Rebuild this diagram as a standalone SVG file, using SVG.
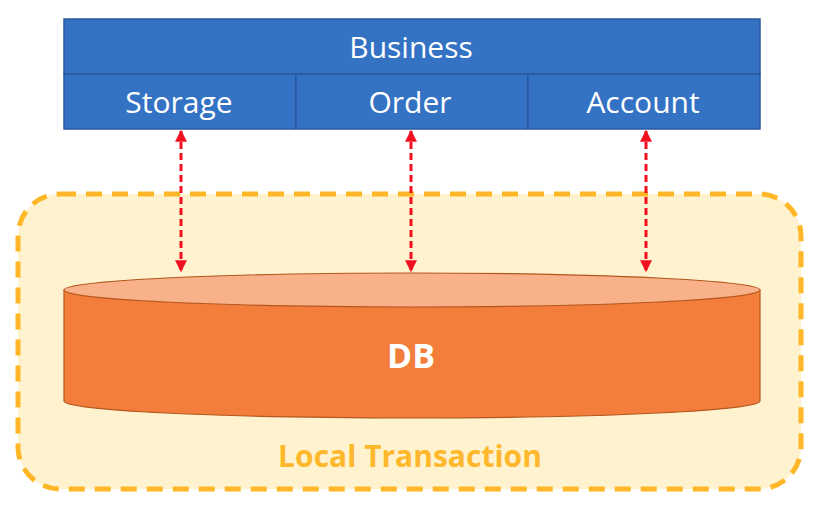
<svg xmlns="http://www.w3.org/2000/svg" width="817" height="505" viewBox="0 0 817 505">
<defs>
<style>
.cell{fill:#3472C4;stroke:#2A5A9E;stroke-width:1.5}
.lbl{font-family:"Open Sans","Liberation Sans",sans-serif;font-size:30px;fill:#fff;text-anchor:middle}
.conn{stroke:#F0101E;stroke-width:3;stroke-dasharray:7 4;fill:none}
</style>
<marker id="ah" viewBox="0 0 10 10" refX="9" refY="5" markerWidth="4" markerHeight="4" orient="auto-start-reverse" markerUnits="strokeWidth">
<path d="M0,0 L10,5 L0,10 z" fill="#F0101E"/>
</marker>
</defs>
<rect width="817" height="505" fill="#fff"/>
<g id="local-transaction">
<rect x="18" y="194" width="783" height="295" rx="42" ry="42" fill="#FFF2CF" stroke="#FFB727" stroke-width="5" stroke-dasharray="16 10"/>
<text x="410" y="467" font-family="'Open Sans','Liberation Sans',sans-serif" font-size="30" font-weight="bold" fill="#FFB82B" text-anchor="middle">Local Transaction</text>
</g>
<g id="business">
<rect class="cell" x="64" y="19" width="696" height="55"/>
<text class="lbl" x="411" y="58">Business</text>
</g>
<g id="storage">
<rect class="cell" x="64" y="74" width="232" height="55"/>
<text class="lbl" x="179" y="113">Storage</text>
</g>
<g id="order">
<rect class="cell" x="296" y="74" width="232" height="55"/>
<text class="lbl" x="410" y="113">Order</text>
</g>
<g id="account">
<rect class="cell" x="528" y="74" width="232" height="55"/>
<text class="lbl" x="643" y="113">Account</text>
</g>
<g id="db">
<path d="M64,290 L64,401 A348,17 0 0 0 760,401 L760,290 Z" fill="#F37E3B" stroke="#B4571F" stroke-width="1.2"/>
<ellipse cx="412" cy="290" rx="348" ry="17" fill="#F8B189" stroke="#B4571F" stroke-width="1.2"/>
<text x="411" y="368" font-family="'Open Sans','Liberation Sans',sans-serif" font-size="34" font-weight="bold" fill="#fff" text-anchor="middle">DB</text>
</g>
<g id="connectors">
<line class="conn" x1="181" y1="131" x2="181" y2="271" marker-start="url(#ah)" marker-end="url(#ah)"/>
<line class="conn" x1="411" y1="131" x2="411" y2="271" marker-start="url(#ah)" marker-end="url(#ah)"/>
<line class="conn" x1="646" y1="131" x2="646" y2="271" marker-start="url(#ah)" marker-end="url(#ah)"/>
</g>
</svg>
